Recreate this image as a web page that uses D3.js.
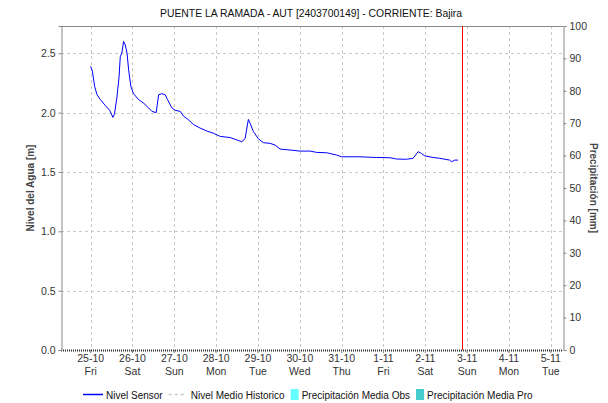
<!DOCTYPE html>
<html>
<head>
<meta charset="utf-8">
<script src="https://cdn.jsdelivr.net/npm/d3@7"></script>
<style>
  html, body { margin: 0; padding: 0; background: #fff; }
  svg { display: block; font-family: "Liberation Sans", Arial, sans-serif; }
</style>
</head>
<body>
<svg id="chart" width="608" height="403"></svg>
<script>
// Station level readings: hours after the first reading, and level in metres
const obsStart = "2024-10-25T00:00:00";
const obsHours = [0, 1, 2.3, 3.7, 5.6, 8.4, 10.9, 12.8, 13.7, 15.1, 16.3, 17, 18, 18.9, 19.9, 20.9,
  21.8, 23.1, 24.6, 27.5, 30.4, 33.2, 35.2, 37.6, 39, 40.9, 42.8, 44.1, 46.6, 48.5, 51.4, 53.3,
  56.1, 59, 62.8, 66.7, 70.5, 74.3, 80, 83.9, 86.7, 88.6, 90.5, 91.5, 93.4, 96.2, 99.1, 103,
  105.8, 108.7, 114.4, 120.1, 125.9, 129.7, 135.4, 141.1, 144, 154.5, 164, 171.7, 175.5, 181.2,
  185, 187.9, 189.8, 191.7, 196.5, 200.3, 206, 207, 208.9, 210.8];
const obsLevel = [2.39, 2.35, 2.22, 2.15, 2.11, 2.06, 2.02, 1.96, 1.99, 2.13, 2.30, 2.47, 2.51, 2.60, 2.57, 2.50,
  2.36, 2.22, 2.16, 2.11, 2.08, 2.04, 2.01, 2.00, 2.15, 2.16, 2.15, 2.11, 2.04, 2.02, 2.01, 1.97,
  1.94, 1.90, 1.87, 1.845, 1.826, 1.80, 1.79, 1.77, 1.755, 1.78, 1.943, 1.91, 1.84, 1.78, 1.747, 1.741,
  1.727, 1.693, 1.685, 1.676, 1.676, 1.665, 1.662, 1.643, 1.628, 1.628, 1.622, 1.62, 1.609, 1.607,
  1.615, 1.671, 1.656, 1.636, 1.622, 1.615, 1.60, 1.586, 1.60, 1.60];

// Axis extents and labels
const timeDomain = ["2024-10-24T07:00:00", "2024-11-05T07:00:00"];
const nowMark = "2024-11-02T20:50:00";
const levelDomain = [0, 2.73];
const levelTicks = [0, 0.5, 1.0, 1.5, 2.0, 2.5];
const rainDomain = [0, 100];
const rainTicks = [0, 10, 20, 30, 40, 50, 60, 70, 80, 90, 100];
const dayLabels = ["Sun", "Mon", "Tue", "Wed", "Thu", "Fri", "Sat"];

const title = "PUENTE LA RAMADA - AUT [2403700149] - CORRIENTE: Bajira";
const legendItems = [
  { label: "Nivel Sensor", kind: "line", color: "#0000ff" },
  { label: "Nivel Medio Historico", kind: "dash", color: "#c8c8c8" },
  { label: "Precipitación Media Obs", kind: "box", color: "#66ffff" },
  { label: "Precipitación Media Pro", kind: "box", color: "#44cccc" }
];

const svg = d3.select("#chart");
const m = { left: 61, right: 563, top: 26, bottom: 350 };
const parse = d3.isoParse;
const fs = "10.5px";

const x = d3.scaleTime().domain(timeDomain.map(parse)).range([m.left, m.right]);
const yL = d3.scaleLinear().domain(levelDomain).range([m.bottom, m.top]);
const yR = d3.scaleLinear().domain(rainDomain).range([m.bottom, m.top]);

const t0 = parse(obsStart);
const series = obsHours.map((h, i) => ({ t: new Date(t0.getTime() + h * 3600e3), v: obsLevel[i] }));

const dayTicks = d3.timeDay.range(d3.timeDay.ceil(x.domain()[0]), x.domain()[1]);

// Grid
const grid = svg.append("g").attr("stroke", "#c8c8c8").attr("stroke-dasharray", "3,3").attr("stroke-width", 1);
dayTicks.forEach(d => {
  grid.append("line").attr("x1", Math.round(x(d)) + 0.5).attr("x2", Math.round(x(d)) + 0.5)
    .attr("y1", m.top).attr("y2", m.bottom);
});
levelTicks.filter(v => v > 0).forEach(v => {
  grid.append("line").attr("x1", m.left).attr("x2", m.right)
    .attr("y1", Math.round(yL(v)) + 0.5).attr("y2", Math.round(yL(v)) + 0.5);
});

// Frame lines
svg.append("line").attr("x1", m.left).attr("x2", m.right).attr("y1", m.top + 0.5).attr("y2", m.top + 0.5)
  .attr("stroke", "#888");
svg.append("line").attr("x1", m.left).attr("x2", m.right).attr("y1", m.bottom + 0.5).attr("y2", m.bottom + 0.5)
  .attr("stroke", "#333").attr("stroke-dasharray", "1,1").attr("stroke-width", 2);

// Left axis
const axL = svg.append("g").attr("transform", `translate(${m.left + 0.5},0)`)
  .call(d3.axisLeft(yL).tickValues(levelTicks).tickFormat(d3.format(".1f")).tickSize(3).tickPadding(3));
// Right axis
const axR = svg.append("g").attr("transform", `translate(${m.right + 0.5},0)`)
  .call(d3.axisRight(yR).tickValues(rainTicks).tickSize(3).tickPadding(3));
[axL, axR].forEach(a => {
  a.select(".domain").attr("stroke", "#888");
  a.selectAll(".tick line").attr("stroke", "#888");
  a.selectAll("text").attr("fill", "#333").style("font-size", fs);
});

// Time axis labels: date and weekday
const axB = svg.append("g");
dayTicks.forEach(d => {
  const g = axB.append("g").attr("transform", `translate(${x(d)},0)`);
  g.append("line").attr("y1", m.bottom).attr("y2", m.bottom + 3).attr("stroke", "#888");
  g.append("text").attr("y", 362).attr("text-anchor", "middle").attr("fill", "#333")
    .style("font-size", fs).text(d3.timeFormat("%-d-%m")(d));
  g.append("text").attr("y", 375).attr("text-anchor", "middle").attr("fill", "#333")
    .style("font-size", fs).text(dayLabels[d.getDay()]);
});

// Axis titles
svg.append("text").attr("transform", `translate(34,${(m.top + m.bottom) / 2}) rotate(-90)`)
  .attr("text-anchor", "middle").attr("fill", "#444").style("font-size", "10px").style("font-weight", "bold")
  .text("Nivel del Agua [m]");
svg.append("text").attr("transform", `translate(590,${(m.top + m.bottom) / 2}) rotate(90)`)
  .attr("text-anchor", "middle").attr("fill", "#444").style("font-size", "10px").style("font-weight", "bold")
  .text("Precipitación [mm]");

// Title
svg.append("text").attr("x", 311).attr("y", 17).attr("text-anchor", "middle").attr("fill", "#111")
  .attr("textLength", 302).attr("lengthAdjust", "spacingAndGlyphs")
  .style("font-size", "11.5px").text(title);

// Level line
svg.append("path").datum(series)
  .attr("fill", "none").attr("stroke", "#0000ff").attr("stroke-width", 1)
  .attr("d", d3.line().x(d => x(d.t)).y(d => yL(d.v)));

// Current-time marker
const xn = Math.round(x(parse(nowMark))) + 0.5;
svg.append("line").attr("x1", xn).attr("x2", xn).attr("y1", m.top).attr("y2", m.bottom)
  .attr("stroke", "#ff0000").attr("stroke-width", 1);

// Legend
const leg = svg.append("g").attr("transform", "translate(0,399)");
let lx = 83;
legendItems.forEach(it => {
  if (it.kind === "line") {
    leg.append("line").attr("x1", lx).attr("x2", lx + 20).attr("y1", -4.5).attr("y2", -4.5)
      .attr("stroke", it.color).attr("stroke-width", 1.5);
    lx += 23;
  } else if (it.kind === "dash") {
    leg.append("line").attr("x1", lx).attr("x2", lx + 18).attr("y1", -4.5).attr("y2", -4.5)
      .attr("stroke", it.color).attr("stroke-width", 1.5).attr("stroke-dasharray", "3,3");
    lx += 22;
  } else {
    leg.append("rect").attr("x", lx).attr("y", -10).attr("width", 8).attr("height", 11).attr("fill", it.color);
    lx += 11;
  }
  const t = leg.append("text").attr("x", lx).attr("y", 0).attr("fill", "#111")
    .style("font-size", "10px").text(it.label);
  lx += t.node().getComputedTextLength() + 6;
});
</script>
</body>
</html>
